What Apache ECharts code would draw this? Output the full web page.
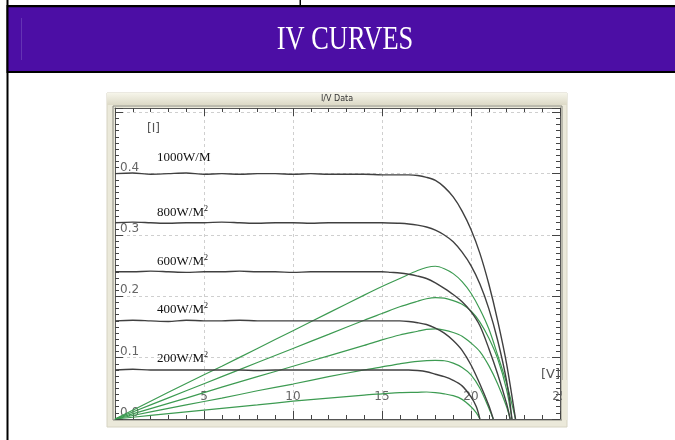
<!DOCTYPE html>
<html><head><meta charset="utf-8">
<script src="https://cdn.jsdelivr.net/npm/echarts@6/dist/echarts.min.js"></script>
<style>html,body{margin:0;padding:0;background:#fff}#c{width:675px;height:440px}</style>
</head><body><div id="c"></div>
<script>
// ---- text ----
const headerTitle = 'IV CURVES';
const panelTitle = 'I/V Data';
const xUnit = '[V]';
const yUnit = '[I]';
const irradianceLabels = ['1000W/M', '800W/M', '600W/M', '400W/M', '200W/M'];
const irradianceSup = ['', '2', '2', '2', '2'];

// ---- axis ----
const xMin = 0, xMax = 25, xStep = 5;
const yMin = 0, yMax = 0.507, yStep = 0.1;

// ---- I-V curves [V, I] ----
const iv1000 = [[0,0.400],[1,0.401],[2,0.399],[3,0.400],[4,0.401],[5,0.399],[6,0.400],[7,0.399],[8,0.400],[9,0.400],[10,0.399],[11,0.400],[12,0.399],[13,0.399],[14,0.399],[15,0.398],[16,0.398],[16.5,0.398],[17,0.397],[17.5,0.394],[18,0.389],[18.5,0.378],[19,0.362],[19.5,0.339],[20,0.309],[20.5,0.270],[21,0.220],[21.5,0.160],[22,0.090],[22.5,0.0]];
const iv800 = [[0,0.320],[1,0.321],[2,0.320],[3,0.319],[4,0.320],[5,0.320],[6,0.321],[7,0.320],[8,0.319],[9,0.320],[10,0.320],[11,0.319],[12,0.320],[13,0.320],[14,0.320],[15,0.320],[16,0.319],[16.5,0.318],[17,0.316],[17.5,0.313],[18,0.308],[18.5,0.300],[19,0.289],[19.5,0.272],[20,0.250],[20.5,0.220],[21,0.180],[21.5,0.128],[22,0.062],[22.3,0.0]];
const iv600 = [[0,0.240],[1,0.240],[2,0.241],[3,0.240],[4,0.239],[5,0.240],[6,0.240],[7,0.241],[8,0.240],[9,0.240],[10,0.239],[11,0.240],[12,0.240],[13,0.240],[14,0.240],[15,0.240],[15.5,0.239],[16,0.238],[16.5,0.236],[17,0.233],[17.5,0.229],[18,0.222],[18.5,0.213],[19,0.203],[19.5,0.191],[20,0.175],[20.5,0.152],[21,0.115],[21.5,0.073],[22,0.025],[22.2,0.0]];
const iv400 = [[0,0.160],[1,0.161],[2,0.160],[3,0.159],[4,0.161],[5,0.160],[6,0.160],[7,0.161],[8,0.160],[9,0.160],[10,0.160],[11,0.160],[12,0.160],[13,0.160],[14,0.160],[15,0.160],[16,0.160],[16.5,0.159],[17,0.157],[17.5,0.154],[18,0.148],[18.5,0.140],[19,0.128],[19.5,0.112],[20,0.088],[20.5,0.057],[21,0.022],[21.25,0.0]];
const iv200 = [[0,0.080],[1,0.081],[2,0.080],[3,0.080],[4,0.080],[5,0.080],[6,0.080],[7,0.080],[8,0.079],[9,0.080],[10,0.080],[11,0.080],[12,0.080],[13,0.080],[14,0.080],[15,0.080],[16,0.080],[16.5,0.080],[17,0.079],[17.5,0.077],[18,0.073],[18.5,0.069],[19,0.063],[19.5,0.054],[20,0.036],[20.3,0.020],[20.5,0.0]];

// ---- power curves (scaled) [V, P] ----
const pw1000 = [[0,0],[2,0.029],[4,0.058],[6,0.086],[8,0.115],[10,0.144],[12,0.173],[14,0.202],[15,0.216],[16,0.229],[17,0.242],[17.5,0.247],[18,0.249],[18.5,0.245],[19,0.237],[19.5,0.224],[20,0.205],[20.5,0.179],[21,0.147],[21.5,0.104],[22,0.058],[22.5,0]];
const pw800 = [[0,0],[2,0.023],[4,0.046],[6,0.069],[8,0.092],[10,0.115],[12,0.138],[14,0.161],[15,0.172],[16,0.183],[17,0.192],[17.5,0.196],[18,0.198],[18.5,0.197],[19,0.193],[19.5,0.187],[20,0.176],[20.5,0.158],[21,0.132],[21.5,0.098],[22,0.048],[22.3,0]];
const pw600 = [[0,0],[2,0.017],[4,0.034],[6,0.052],[8,0.069],[10,0.086],[12,0.103],[14,0.120],[15,0.129],[16,0.137],[17,0.143],[17.5,0.146],[18,0.147],[18.5,0.145],[19,0.141],[19.5,0.135],[20,0.124],[20.5,0.110],[21,0.087],[21.5,0.057],[22,0.020],[22.2,0]];
const pw400 = [[0,0],[2,0.0115],[4,0.023],[6,0.034],[8,0.046],[10,0.057],[12,0.069],[14,0.080],[15,0.085],[16,0.090],[17,0.094],[18,0.0955],[18.5,0.095],[19,0.091],[19.5,0.084],[20,0.072],[20.5,0.050],[21,0.018],[21.25,0]];
const pw200 = [[0,0],[2,0.0058],[4,0.0116],[6,0.0174],[8,0.023],[10,0.029],[12,0.034],[14,0.039],[15,0.041],[16,0.043],[17,0.0435],[17.5,0.044],[18,0.043],[18.5,0.041],[19,0.038],[19.5,0.032],[20,0.020],[20.3,0.010],[20.5,0]];

const ivCurves = [iv1000, iv800, iv600, iv400, iv200];
const pwCurves = [pw1000, pw800, pw600, pw400, pw200];

// ---- build ----
const chart = echarts.init(document.getElementById('c'), null, {renderer: 'canvas'});
const ivColor = '#404040', pwColor = '#3d9b52', tickColor = '#444', labelColor = '#666';

function xAx(pos, labels) {
  return {
    type: 'value', min: xMin, max: xMax, interval: xStep, position: pos,
    axisLine: {show: true, onZero: false, lineStyle: {color: '#555', width: 1}},
    axisTick: {show: true, inside: true, length: 8, lineStyle: {color: tickColor}},
    minorTick: {show: true, splitNumber: 5, length: 4, lineStyle: {color: tickColor}},
    axisLabel: labels ? {inside: true, margin: 16, color: labelColor, fontSize: 12, fontFamily: 'DejaVu Sans',
      formatter: v => v === 0 ? '' : String(v)} : {show: false},
    splitLine: {show: labels, lineStyle: {color: '#cfcfcf', type: [3, 3]}}
  };
}
function yAx(pos, labels) {
  return {
    type: 'value', min: yMin, max: yMax, interval: yStep, position: pos,
    axisLine: {show: true, onZero: false, lineStyle: {color: '#555', width: 1}},
    axisTick: {show: true, inside: true, length: 8, lineStyle: {color: tickColor}},
    minorTick: {show: true, splitNumber: 10, length: 4, lineStyle: {color: tickColor}},
    axisLabel: labels ? {inside: true, margin: 5, color: labelColor, fontSize: 12, fontFamily: 'DejaVu Sans', verticalAlign: 'bottom',
      formatter: v => v > 0.45 ? '' : v.toFixed(1)} : {show: false},
    splitLine: {show: labels, lineStyle: {color: '#cfcfcf', type: [3, 3]}}
  };
}

const series = [];
pwCurves.forEach((d, i) => series.push({type: 'line', name: 'P' + i, data: d, xAxisIndex: 0, yAxisIndex: 0,
  showSymbol: false, smooth: 0.3, lineStyle: {color: pwColor, width: 1.2}, z: 3, silent: true}));
ivCurves.forEach((d, i) => series.push({type: 'line', name: 'I' + i, data: d, xAxisIndex: 0, yAxisIndex: 0,
  showSymbol: false, smooth: 0.3, lineStyle: {color: ivColor, width: 1.4}, z: 4, silent: true}));

const labelTops = [150, 205, 254, 302, 351];
const graphics = [
  // table lines
  {type: 'rect', shape: {x: 6.5, y: 0, width: 2, height: 440}, style: {fill: '#000'}, z: -5},
  {type: 'rect', shape: {x: 299.5, y: 0, width: 1.5, height: 6}, style: {fill: '#000'}, z: -5},
  {type: 'rect', shape: {x: 6.5, y: 5, width: 669, height: 68}, style: {fill: '#000'}, z: -5},
  {type: 'rect', shape: {x: 8.5, y: 7.3, width: 667, height: 63.7}, style: {fill: '#4c0ea5'}, z: -4},
  {type: 'rect', shape: {x: 21, y: 18, width: 1, height: 42}, style: {fill: '#6433b4'}, z: -3},
  {type: 'text', x: 345, y: 40, scaleX: 0.88, scaleY: 1.12,
    style: {x: 0, y: 0, text: headerTitle, fill: '#fff', align: 'center', verticalAlign: 'middle',
    font: '30px "Liberation Serif", "DejaVu Serif", serif'}, z: -2},
  // chart panel
  {type: 'rect', shape: {x: 107, y: 93, width: 460, height: 334}, style: {fill: '#ebe9da', stroke: '#d6d3c2', lineWidth: 1}, z: -5},
  {type: 'rect', shape: {x: 107, y: 93, width: 460, height: 12},
    style: {fill: new echarts.graphic.LinearGradient(0, 0, 0, 1, [{offset: 0, color: '#f6f5ea'}, {offset: 1, color: '#dcd9c6'}])}, z: -4},
  {type: 'text', style: {x: 337, y: 99, text: panelTitle, fill: '#333', align: 'center', verticalAlign: 'middle', font: '8px "DejaVu Sans", sans-serif'}, z: -3},
  {type: 'rect', shape: {x: 115, y: 108, width: 446, height: 311}, style: {fill: '#fff'}, z: -3},
  {type: 'rect', shape: {x: 113, y: 106, width: 449, height: 314}, style: {fill: 'none', stroke: '#8a8a80', lineWidth: 1}, z: -2},
  // cover for label overflow on the right
  {type: 'rect', shape: {x: 562, y: 380, width: 5, height: 40}, style: {fill: '#ebe9da'}, z: 100},
  // unit labels
  {type: 'text', style: {x: 147, y: 123, text: yUnit, fill: '#555', font: '12px "DejaVu Sans", sans-serif'}, z: 10},
  {type: 'text', style: {x: 541, y: 368, text: xUnit, fill: '#555', font: '13px "DejaVu Sans", sans-serif'}, z: 10}
];
irradianceLabels.forEach((t, i) => {
  graphics.push({type: 'text', z: 10, style: {x: 157, y: labelTops[i],
    text: '{m|' + t + '}' + (irradianceSup[i] ? '{s|' + irradianceSup[i] + '}' : ''),
    rich: {m: {fontSize: 13, fontFamily: '"Liberation Serif", serif', fill: '#111', lineHeight: 14, verticalAlign: 'bottom'},
           s: {fontSize: 8, fontFamily: '"Liberation Serif", serif', fill: '#111', lineHeight: 14, verticalAlign: 'top'}}}});
});

chart.setOption({
  animation: false,
  backgroundColor: '#fff',
  grid: {left: 115, right: 115, top: 108, bottom: 21, containLabel: false},
  xAxis: [xAx('bottom', true), xAx('top', false)],
  yAxis: [yAx('left', true), yAx('right', false)],
  series: series,
  graphic: graphics
});
</script></body></html>
